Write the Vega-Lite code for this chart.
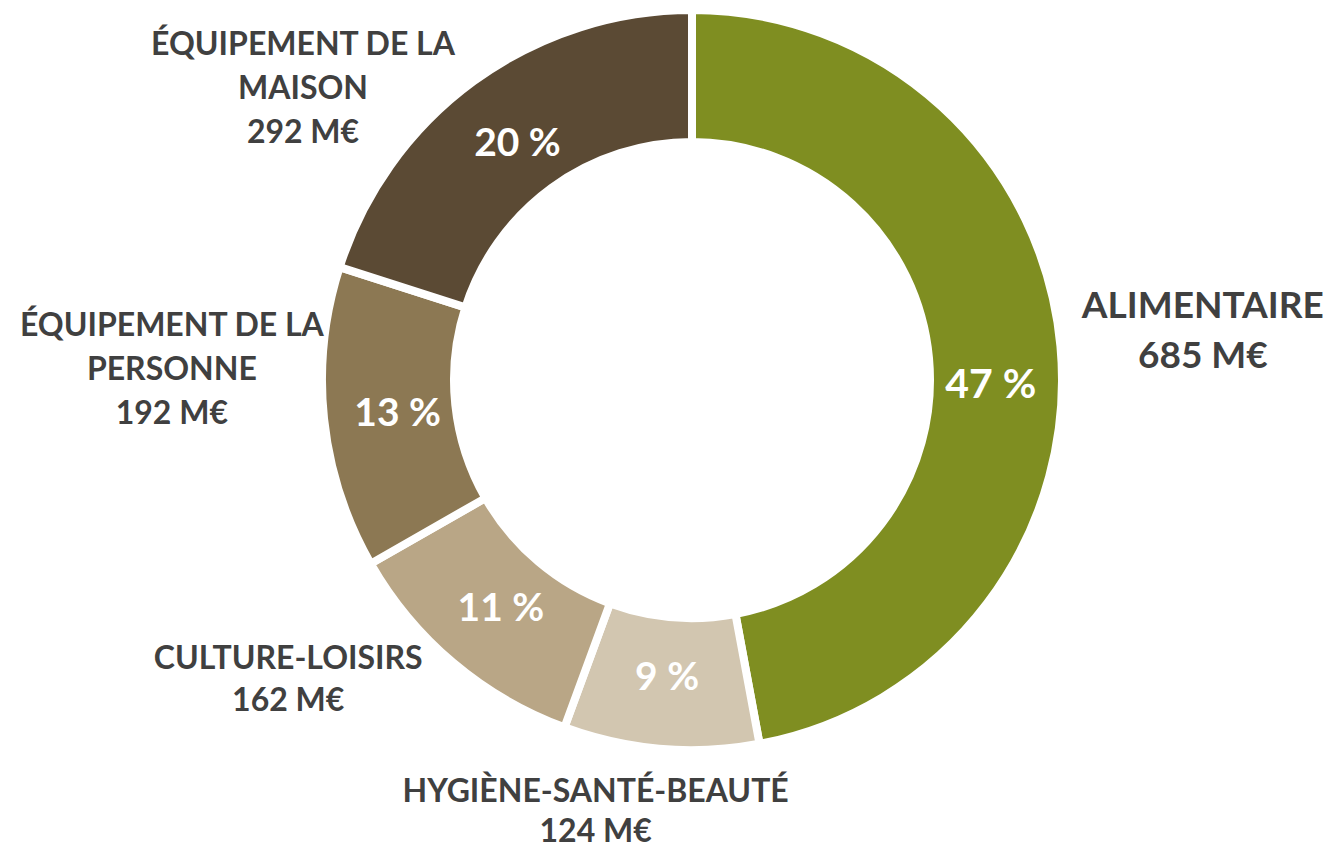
{
  "$schema": "https://vega.github.io/schema/vega-lite/v6.json",
  "width": 1270,
  "height": 760,
  "autosize": {"type": "none"},
  "padding": {"left": 57, "top": 0, "right": 0, "bottom": 87},
  "background": "white",
  "config": {"view": {"stroke": null}},
  "data": {
    "values": [
      {"categorie": "ALIMENTAIRE", "etiquette": "ALIMENTAIRE", "valeur": 685, "ordre": 1},
      {"categorie": "HYGIÈNE-SANTÉ-BEAUTÉ", "etiquette": "HYGIÈNE-SANTÉ-BEAUTÉ", "valeur": 124, "ordre": 2},
      {"categorie": "CULTURE-LOISIRS", "etiquette": "CULTURE-LOISIRS", "valeur": 162, "ordre": 3},
      {"categorie": "ÉQUIPEMENT DE LA PERSONNE", "etiquette": "ÉQUIPEMENT DE LA\nPERSONNE", "valeur": 192, "ordre": 4},
      {"categorie": "ÉQUIPEMENT DE LA MAISON", "etiquette": "ÉQUIPEMENT DE LA\nMAISON", "valeur": 292, "ordre": 5}
    ]
  },
  "transform": [
    {"stack": "valeur", "groupby": [], "sort": [{"field": "ordre", "order": "ascending"}], "as": ["v0", "v1"]},
    {"joinaggregate": [{"op": "sum", "field": "valeur", "as": "total"}]},
    {"calculate": "datum.v0 / datum.total", "as": "f0"},
    {"calculate": "datum.v1 / datum.total", "as": "f1"},
    {"calculate": "(datum.v0 + datum.v1) / 2 / datum.total", "as": "fm"},
    {"calculate": "round(100 * datum.valeur / datum.total) + ' %'", "as": "pct"},
    {"calculate": "datum.etiquette + '\\n' + datum.valeur + ' M€'", "as": "texte"}
  ],
  "layer": [
    {
      "mark": {"type": "arc", "outerRadius": 370, "innerRadius": 238, "stroke": "white", "strokeWidth": 8},
      "encoding": {
        "theta": {"field": "f0", "type": "quantitative", "stack": null, "scale": {"domain": [0, 1], "range": [0, 6.283185307179586]}},
        "theta2": {"field": "f1"},
        "color": {
          "field": "categorie",
          "type": "nominal",
          "legend": null,
          "scale": {
            "domain": ["ALIMENTAIRE", "HYGIÈNE-SANTÉ-BEAUTÉ", "CULTURE-LOISIRS", "ÉQUIPEMENT DE LA PERSONNE", "ÉQUIPEMENT DE LA MAISON"],
            "range": ["#7F8E21", "#D2C6B0", "#B9A686", "#8C7853", "#5B4A34"]
          }
        }
      }
    },
    {
      "transform": [{"filter": "datum.categorie != 'ALIMENTAIRE'"}],
      "mark": {"type": "text", "radius": 296, "dy": 3, "font": "Lato", "fontWeight": "bold", "fontSize": 39, "fill": "white", "align": "center", "baseline": "middle"},
      "encoding": {
        "theta": {"field": "fm", "type": "quantitative", "stack": null, "scale": {"domain": [0, 1], "range": [0, 6.283185307179586]}},
        "text": {"field": "pct", "type": "nominal"}
      }
    },
    {
      "transform": [{"filter": "datum.categorie == 'ALIMENTAIRE'"}],
      "mark": {"type": "text", "radius": 300, "dy": 33, "font": "Lato", "fontWeight": "bold", "fontSize": 41, "fill": "white", "align": "center", "baseline": "middle"},
      "encoding": {
        "theta": {"field": "fm", "type": "quantitative", "stack": null, "scale": {"domain": [0, 1], "range": [0, 6.283185307179586]}},
        "text": {"field": "pct", "type": "nominal"}
      }
    },
    {
      "transform": [{"filter": "datum.categorie == 'ALIMENTAIRE'"}],
      "mark": {"type": "text", "radius": 510, "dx": 3, "dy": -26, "lineBreak": "\n", "lineHeight": 50, "font": "Lato", "fontWeight": "bold", "fontSize": 37, "fill": "#404040", "align": "center", "baseline": "middle"},
      "encoding": {
        "theta": {"field": "fm", "type": "quantitative", "stack": null, "scale": {"domain": [0, 1], "range": [0, 6.283185307179586]}},
        "text": {"field": "texte", "type": "nominal"}
      }
    },
    {
      "transform": [{"filter": "datum.categorie == 'HYGIÈNE-SANTÉ-BEAUTÉ'"}],
      "mark": {"type": "text", "radius": 432, "dx": -60, "dy": -18, "lineBreak": "\n", "lineHeight": 40, "font": "Lato", "fontWeight": "bold", "fontSize": 32, "fill": "#404040", "align": "center", "baseline": "middle"},
      "encoding": {
        "theta": {"field": "fm", "type": "quantitative", "stack": null, "scale": {"domain": [0, 1], "range": [0, 6.283185307179586]}},
        "text": {"field": "texte", "type": "nominal"}
      }
    },
    {
      "transform": [{"filter": "datum.categorie == 'CULTURE-LOISIRS'"}],
      "mark": {"type": "text", "radius": 500, "dx": -81, "dy": -103, "lineBreak": "\n", "lineHeight": 42, "font": "Lato", "fontWeight": "bold", "fontSize": 32, "fill": "#404040", "align": "center", "baseline": "middle"},
      "encoding": {
        "theta": {"field": "fm", "type": "quantitative", "stack": null, "scale": {"domain": [0, 1], "range": [0, 6.283185307179586]}},
        "text": {"field": "texte", "type": "nominal"}
      }
    },
    {
      "transform": [{"filter": "datum.categorie == 'ÉQUIPEMENT DE LA PERSONNE'"}],
      "mark": {"type": "text", "radius": 520, "dx": -3, "dy": -108, "lineBreak": "\n", "lineHeight": 44, "font": "Lato", "fontWeight": "bold", "fontSize": 32, "fill": "#404040", "align": "center", "baseline": "middle"},
      "encoding": {
        "theta": {"field": "fm", "type": "quantitative", "stack": null, "scale": {"domain": [0, 1], "range": [0, 6.283185307179586]}},
        "text": {"field": "texte", "type": "nominal"}
      }
    },
    {
      "transform": [{"filter": "datum.categorie == 'ÉQUIPEMENT DE LA MAISON'"}],
      "mark": {"type": "text", "radius": 480, "dx": -106, "dy": 53, "lineBreak": "\n", "lineHeight": 44, "font": "Lato", "fontWeight": "bold", "fontSize": 32, "fill": "#404040", "align": "center", "baseline": "middle"},
      "encoding": {
        "theta": {"field": "fm", "type": "quantitative", "stack": null, "scale": {"domain": [0, 1], "range": [0, 6.283185307179586]}},
        "text": {"field": "texte", "type": "nominal"}
      }
    }
  ]
}
